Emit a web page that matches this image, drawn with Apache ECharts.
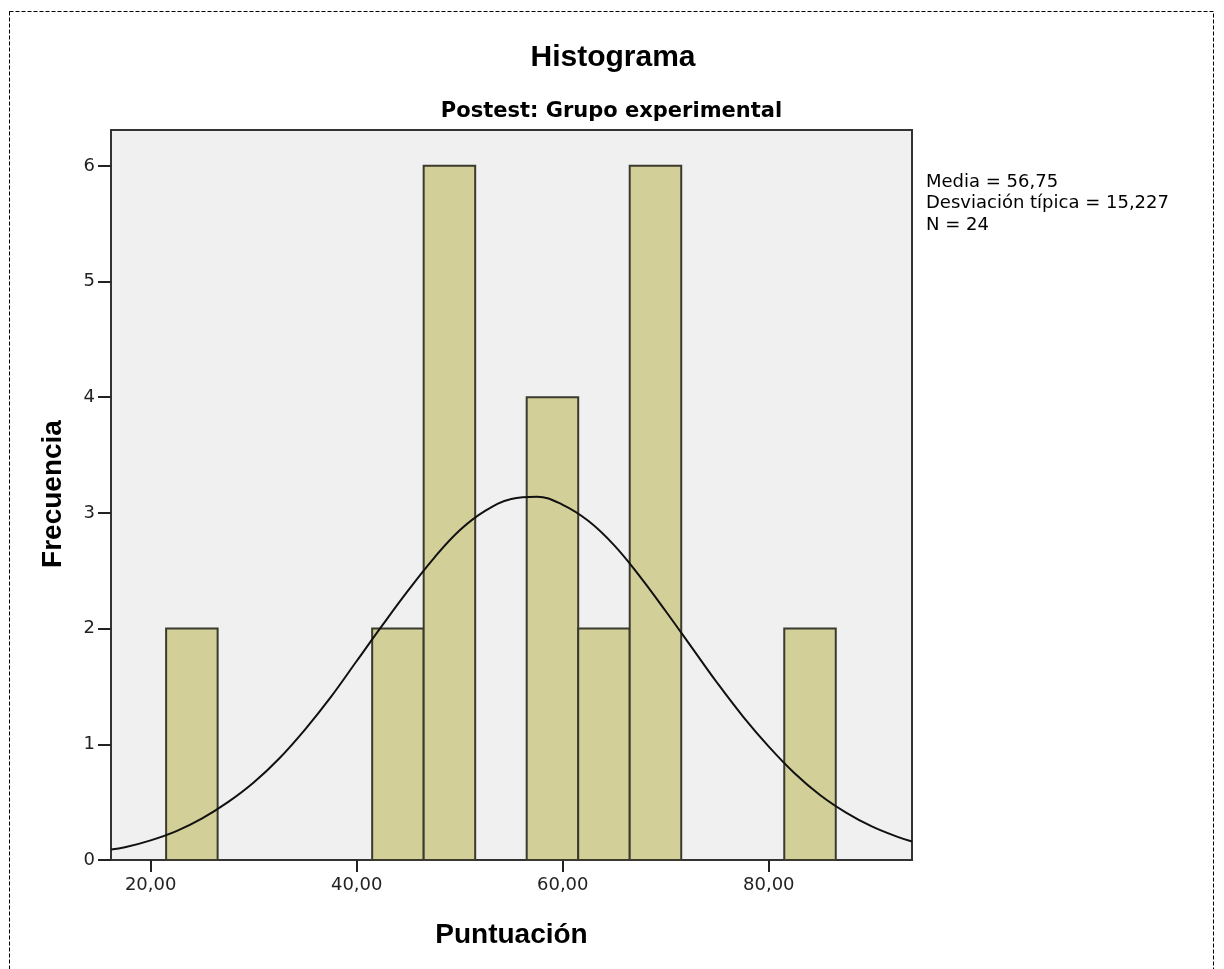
<!DOCTYPE html>
<html>
<head>
<meta charset="utf-8">
<script src="https://cdn.jsdelivr.net/npm/echarts@6/dist/echarts.min.js"></script>
<style>
html,body{margin:0;padding:0;background:#fff;}
#chart{width:1224px;height:969px;}
</style>
</head>
<body>
<div id="chart"></div>
<script>
// Histogram bins (lower edge, upper edge) and frequencies
var binStart = [21.5, 41.5, 46.5, 56.5, 61.5, 66.5, 81.5];
var binEnd   = [26.5, 46.5, 51.5, 61.5, 66.5, 71.5, 86.5];
var counts   = [2, 2, 6, 4, 2, 6, 2];
// Fitted normal curve points
var curveX = [16.15, 17.5, 20, 22.5, 25, 27.5, 30, 32.5, 35, 37.5, 40, 42.5, 45, 47.5, 50, 52.5, 55, 57.5,
              60, 62.5, 65, 67.5, 70, 72.5, 75, 77.5, 80, 82.5, 85, 87.5, 90, 92.5, 93.9];
var curveY = [0.09, 0.11, 0.17, 0.25, 0.36, 0.50, 0.67, 0.88, 1.13, 1.41, 1.72, 2.03, 2.33, 2.61, 2.85, 3.02, 3.12, 3.14,
              3.07, 2.93, 2.72, 2.45, 2.15, 1.84, 1.53, 1.24, 0.98, 0.75, 0.56, 0.41, 0.29, 0.20, 0.16];
var xTicks = [20, 40, 60, 80];
var yTicks = [0, 1, 2, 3, 4, 5, 6];
var statsLines = ['Media = 56,75', 'Desviación típica = 15,227', 'N = 24'];

var fontA = '"Liberation Sans", Arial, sans-serif';
var fontD = '"DejaVu Sans", Verdana, sans-serif';
var chart = echarts.init(document.getElementById('chart'));

var barData = counts.map(function (c, i) { return [binStart[i], binEnd[i], c]; });
var lineData = curveX.map(function (x, i) { return [x, curveY[i]]; });

var graphics = [
  { type: 'rect', shape: { x: 9.5, y: 11.5, width: 1204, height: 1000 }, silent: true,
    style: { fill: 'none', stroke: '#000', lineWidth: 1, lineDash: [4, 2] } },
  { type: 'text', x: 613, y: 57.5, silent: true,
    style: { text: 'Histograma', fontFamily: fontA, fontSize: 30, fontWeight: 'bold', fill: '#000',
             align: 'center', verticalAlign: 'middle' } },
  { type: 'text', x: 611.5, y: 111.5, silent: true,
    style: { text: 'Postest: Grupo experimental', fontFamily: fontD, fontSize: 21, fontWeight: 'bold', fill: '#000',
             align: 'center', verticalAlign: 'middle' } },
  { type: 'text', x: 511.5, y: 935, silent: true,
    style: { text: 'Puntuación', fontFamily: fontA, fontSize: 28, fontWeight: 'bold', fill: '#000',
             align: 'center', verticalAlign: 'middle' } },
  { type: 'text', x: 53, y: 494, rotation: Math.PI / 2, silent: true,
    style: { text: 'Frecuencia', fontFamily: fontA, fontSize: 28, fontWeight: 'bold', fill: '#000',
             align: 'center', verticalAlign: 'middle' } }
];
statsLines.forEach(function (s, i) {
  graphics.push({ type: 'text', x: 926, y: 182 + i * 21.5, silent: true,
    style: { text: s, fontFamily: fontD, fontSize: 18, fill: '#000', align: 'left', verticalAlign: 'middle' } });
});

chart.setOption({
  animation: false,
  backgroundColor: '#ffffff',
  graphic: graphics,
  grid: { left: 111, top: 130, width: 801, height: 730, backgroundColor: '#f0f0f0', show: true,
          borderColor: '#333', borderWidth: 2 },
  xAxis: {
    type: 'value', min: 16.15, max: 93.9,
    axisLine: { show: true, onZero: false, lineStyle: { color: '#333', width: 2 } },
    axisTick: { show: true, length: 12, customValues: xTicks, lineStyle: { color: '#222', width: 2 } },
    axisLabel: { customValues: xTicks, margin: 16, fontFamily: fontD, fontSize: 18, color: '#222',
      formatter: function (v) { return v.toFixed(2).replace('.', ','); } },
    splitLine: { show: false }
  },
  yAxis: {
    type: 'value', min: 0, max: 6.31,
    axisLine: { show: true, lineStyle: { color: '#333', width: 2 } },
    axisTick: { show: true, length: 13, customValues: yTicks, lineStyle: { color: '#222', width: 2 } },
    axisLabel: { customValues: yTicks, margin: 16, fontFamily: fontD, fontSize: 18, color: '#222' },
    splitLine: { show: false }
  },
  series: [
    {
      type: 'custom',
      data: barData,
      encode: { x: [0, 1], y: 2 },
      renderItem: function (params, api) {
        var p0 = api.coord([api.value(0), api.value(2)]);
        var p1 = api.coord([api.value(1), 0]);
        return {
          type: 'rect',
          shape: { x: p0[0], y: p0[1], width: p1[0] - p0[0], height: p1[1] - p0[1] },
          style: { fill: '#d3cf98', stroke: '#3b3a2e', lineWidth: 2 }
        };
      },
      z: 2
    },
    {
      type: 'line',
      data: lineData,
      smooth: 0.4,
      showSymbol: false,
      lineStyle: { color: '#111', width: 2 },
      z: 3
    }
  ]
});
</script>
</body>
</html>
